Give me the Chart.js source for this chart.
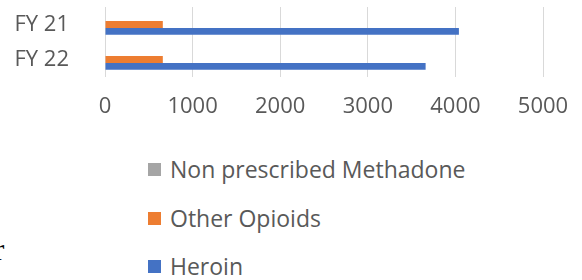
<!DOCTYPE html>
<html>
<head>
<meta charset="utf-8">
<script src="https://cdn.jsdelivr.net/npm/chart.js@4"></script>
<style>
  body { margin: 0; background: #fff; width: 582px; height: 280px; overflow: hidden; position: relative; }
  #wrap { position: absolute; left: 0; top: 0; width: 582px; height: 130px; }
  #legend { position: absolute; left: 148px; top: 155px; font-family: "Open Sans", sans-serif; font-size: 23px; line-height: 28px; color: #595959; }
  .item { height: 48.5px; display: flex; align-items: flex-start; white-space: nowrap; }
  .box { width: 13px; height: 13px; margin-top: 8px; margin-right: 9px; flex: none; }
  #stray { position: absolute; left: -6px; top: 232px; font-family: "Liberation Serif", serif; font-size: 31px; line-height: 36px; color: #000; }
</style>
</head>
<body>
<div id="wrap"><canvas id="myChart"></canvas></div>
<div id="legend"></div>
<span id="stray">r</span>
<script>
// opioid bars - FY comparison

const years = ['FY 21', 'FY 22']
const methadone = [0, 0]
const otherOpioids = [660, 660]
const heroin = [4040, 3660]
const xTicks = [0, 1000, 2000, 3000, 4000, 5000]

const data = {
    labels: years,
    datasets: [
        { label: 'Non prescribed Methadone', backgroundColor: '#a5a5a5', data: methadone },
        { label: 'Other Opioids', backgroundColor: '#ed7d31', data: otherOpioids },
        { label: 'Heroin', backgroundColor: '#4472c4', data: heroin },
    ]
}

const tickFont = { family: '"Open Sans", sans-serif', size: 22 }

const config = {
    type: 'bar',
    data: data,
    options: {
        indexAxis: 'y',
        responsive: true,
        maintainAspectRatio: false,
        animation: false,
        categoryPercentage: 0.58,
        barPercentage: 1,
        layout: { padding: { top: 7, right: 39, left: 0, bottom: 0 } },
        plugins: { legend: { display: false }, tooltip: { enabled: false } },
        scales: {
            x: {
                min: 0,
                max: 5000,
                afterBuildTicks: (axis) => { axis.ticks = xTicks.map(v => ({ value: v })) },
                afterFit: (axis) => {
                    axis.height = 53
                    axis.paddingLeft = 0
                    axis.paddingRight = 0
                },
                grid: { color: '#d9d9d9', drawTicks: false },
                border: { display: false },
                ticks: { color: '#595959', font: tickFont, padding: 17, callback: (v) => String(v) }
            },
            y: {
                afterFit: (axis) => {
                    axis.width = 105
                    axis.paddingTop = 0
                    axis.paddingBottom = 0
                },
                grid: { display: false },
                border: { display: false },
                ticks: { color: '#595959', font: tickFont, padding: 28 }
            }
        }
    }
}

const resultChart = new Chart(document.getElementById('myChart'), config)

// vertical legend like the original
const legend = document.getElementById('legend')
data.datasets.forEach(ds => {
    const row = document.createElement('div')
    row.className = 'item'
    row.innerHTML = `<span class="box" style="background:${ds.backgroundColor}"></span><span>${ds.label}</span>`
    legend.appendChild(row)
})
</script>
</body>
</html>
